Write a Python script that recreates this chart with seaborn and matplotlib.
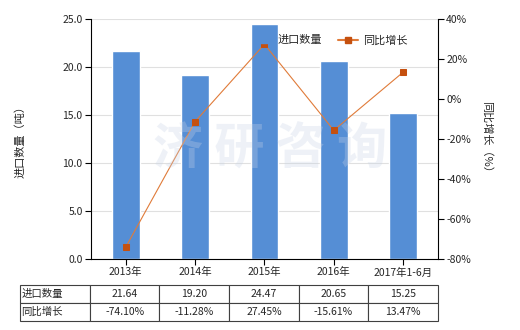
import matplotlib
matplotlib.use("Agg")
import matplotlib.pyplot as plt
import seaborn as sns
import pandas as pd
from matplotlib.lines import Line2D
from matplotlib.patches import Patch

categories = ["2013年", "2014年", "2015年", "2016年", "2017年1-6月"]
import_qty = [21.64, 19.20, 24.47, 20.65, 15.25]
yoy_growth = [-74.10, -11.28, 27.45, -15.61, 13.47]
left_ticks = [0, 5, 10, 15, 20, 25]
right_ticks = [-80, -60, -40, -20, 0, 20, 40]

sns.set_theme(style="white")
plt.rcParams['font.family'] = ['Noto Sans CJK SC', 'DejaVu Sans']
plt.rcParams['axes.unicode_minus'] = False

df = pd.DataFrame({"cat": categories, "qty": import_qty, "yoy": yoy_growth})

fig = plt.figure(figsize=(5.2, 3.3), dpi=100)
ax = fig.add_axes([0.175, 0.215, 0.667, 0.727])
bar_color = "#558ED5"
line_color = "#E07B39"
marker_color = "#C5500F"

sns.barplot(data=df, x="cat", y="qty", color=bar_color, width=0.4, ax=ax,
            saturation=1)
ax.set_xlim(-0.5, 4.5)
ax.set_ylim(0, 25)
ax.set_yticks(left_ticks)
ax.set_yticklabels([f"{v:.1f}" for v in left_ticks], fontsize=7.5)
ax.set_xticks(range(len(categories)))
ax.set_xticklabels(categories, fontsize=7.5)
ax.set_xlabel("")
ax.set_ylabel("进口数量（吨）", fontsize=8)
ax.yaxis.set_label_coords(-0.19, 0.5)
ax.grid(axis="y", color="#e0e0e0", linewidth=0.8)
ax.set_axisbelow(True)
for s in ["top", "right"]:
    ax.spines[s].set_visible(False)
for s in ["left", "bottom"]:
    ax.spines[s].set_color("black")
    ax.spines[s].set_linewidth(0.8)
ax.tick_params(axis="both", which="both", length=4, width=0.8, color="black",
               direction="out", pad=2, left=True, bottom=True)

ax2 = ax.twinx()
sns.lineplot(x=list(range(len(categories))), y=yoy_growth, ax=ax2, color=line_color,
             linewidth=0.8, marker="s", markersize=5, markerfacecolor=marker_color,
             markeredgecolor=marker_color)
ax2.set_ylim(-80, 40)
ax2.set_yticks(right_ticks)
ax2.set_yticklabels([f"{v}%" for v in right_ticks], fontsize=7.5)
ax2.set_ylabel("同比增长（%）", fontsize=8, rotation=270, labelpad=12)
ax2.yaxis.set_label_coords(1.155, 0.5)
ax2.grid(False)
for s in ["top", "left", "bottom"]:
    ax2.spines[s].set_visible(False)
ax2.spines["right"].set_color("black")
ax2.spines["right"].set_linewidth(0.8)
ax2.tick_params(axis="y", length=4, width=0.8, color="black", direction="out", pad=2, right=True)
ax2.set_xlim(-0.5, 4.5)

# watermark
fig.text(0.52, 0.545, "济 研 咨 询", fontsize=36, color="#c8d3e6", alpha=0.3,
         ha="center", va="center", fontweight="bold", zorder=10)

handles = [Patch(facecolor=bar_color, edgecolor=bar_color),
           Line2D([0], [0], color=line_color, marker="s", markersize=4,
                  markerfacecolor=marker_color, markeredgecolor=marker_color, linewidth=1.5)]
ax2.legend(handles, ["进口数量", "同比增长"], loc="upper right", bbox_to_anchor=(0.94, 0.975),
           ncol=2, frameon=False, fontsize=8, handlelength=1.8, columnspacing=1.4,
           handletextpad=0.4)

# table
cell_text = [["进口数量"] + [f"{v:.2f}" for v in import_qty],
             ["同比增长"] + [f"{v:.2f}%" for v in yoy_growth]]
tbl = ax.table(cellText=cell_text, cellLoc="center",
               colWidths=[70 / 418] + [69.6 / 418] * 5,
               bbox=[-0.205, -0.258, 1.205, 0.15])
tbl.auto_set_font_size(False)
tbl.set_fontsize(7.5)
for (r, c), cell in tbl.get_celld().items():
    cell.set_edgecolor("#404040")
    cell.set_linewidth(0.8)
    if c == 0:
        cell.set_text_props(ha="left")
        cell.PAD = 0.02

fig.savefig("out.png", dpi=100)
